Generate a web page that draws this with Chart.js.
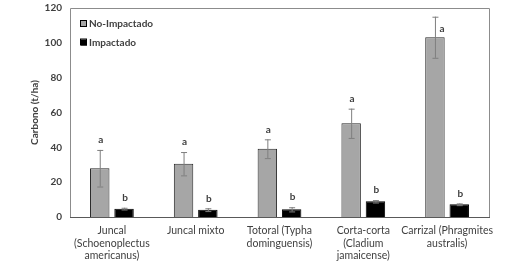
<!DOCTYPE html>
<html><head><meta charset="utf-8">
<script src="https://cdn.jsdelivr.net/npm/chart.js@4/dist/chart.umd.min.js"></script>
<style>html,body{margin:0;padding:0;background:#fff}#w{width:528px;height:264px}</style>
</head><body><div id="w"><canvas id="c"></canvas></div>
<script>
const categories = [
  ["Juncal", "(Schoenoplectus", "americanus)"],
  ["Juncal mixto"],
  ["Totoral (Typha", "dominguensis)"],
  ["Corta-corta", "(Cladium", "jamaicense)"],
  ["Carrizal (Phragmites", "australis)"]
];
const seriesNames = ["No-Impactado", "Impactado"];
const noImpactado = [28, 30.6, 39.2, 53.8, 103.2];
const noImpactadoErr = [10.5, 6.7, 5.4, 8.4, 11.8];
const impactado = [4.8, 4.2, 4.4, 9.0, 7.3];
const impactadoErr = [0.5, 0.8, 1.2, 0.7, 0.5];
const noImpactadoLetters = ["a", "a", "a", "a", "a"];
const impactadoLetters = ["b", "b", "b", "b", "b"];
const yTicks = [0, 20, 40, 60, 80, 100, 120];

const FONT = "Lato";
const TXT = "#404040";

const extras = {
  id: "extras",
  afterDatasetsDraw(chart) {
    const ctx = chart.ctx;
    const y = chart.scales.y;
    const a = chart.chartArea;
    const errs = [noImpactadoErr, impactadoErr];
    const letters = [noImpactadoLetters, impactadoLetters];
    ctx.save();
    chart.data.datasets.forEach((ds, di) => {
      const meta = chart.getDatasetMeta(di);
      meta.data.forEach((bar, i) => {
        const v = ds.data[i], e = errs[di][i];
        const x = bar.x;
        const yt = y.getPixelForValue(v + e), yb = y.getPixelForValue(v - e);
        ctx.strokeStyle = "#7f7f7f";
        ctx.lineWidth = 1;
        ctx.beginPath();
        ctx.moveTo(x + 0.5, yt); ctx.lineTo(x + 0.5, yb);
        ctx.moveTo(x - 2.5, yt + 0.5); ctx.lineTo(x + 3.5, yt + 0.5);
        ctx.moveTo(x - 2.5, yb + 0.5); ctx.lineTo(x + 3.5, yb + 0.5);
        ctx.stroke();
        ctx.fillStyle = TXT;
        ctx.font = "bold 10px " + FONT;
        ctx.textAlign = "center";
        ctx.textBaseline = "middle";
        if (yt - 10 < a.top + 6) {
          ctx.fillText(letters[di][i], x + 7, yt + 12);
        } else {
          ctx.fillText(letters[di][i], x + 1, yt - 10);
        }
      });
    });
    // plot border
    ctx.strokeStyle = "#8c8c8c";
    ctx.lineWidth = 1;
    ctx.beginPath();
    ctx.moveTo(a.left + 0.5, a.bottom); ctx.lineTo(a.left + 0.5, a.top + 0.5);
    ctx.lineTo(a.right + 0.5, a.top + 0.5); ctx.lineTo(a.right + 0.5, a.bottom);
    ctx.stroke();
    ctx.strokeStyle = "#595959";
    ctx.beginPath();
    ctx.moveTo(a.left, a.bottom + 0.5); ctx.lineTo(a.right + 1, a.bottom + 0.5);
    ctx.stroke();
    // legend
    const fills = ["#a6a6a6", "#000000"];
    ctx.font = "bold 10px " + FONT;
    ctx.textAlign = "left";
    ctx.textBaseline = "middle";
    seriesNames.forEach((n, k) => {
      const ly = 24 + k * 18.5;
      ctx.fillStyle = fills[k];
      ctx.fillRect(81, ly - 3, 6, 6);
      ctx.strokeStyle = "#000";
      ctx.strokeRect(80.5, ly - 3.5, 6, 6);
      ctx.fillStyle = TXT;
      ctx.fillText(n, 89, ly);
    });
    ctx.restore();
  }
};

new Chart(document.getElementById("c"), {
  type: "bar",
  data: {
    labels: categories,
    datasets: [
      { label: seriesNames[0], data: noImpactado, backgroundColor: "#a6a6a6", borderColor: "#262626", borderWidth: 1 },
      { label: seriesNames[1], data: impactado, backgroundColor: "#000000", borderColor: "#000000", borderWidth: 1 }
    ]
  },
  options: {
    responsive: true,
    maintainAspectRatio: false,
    animation: false,
    layout: { padding: { left: 29, right: 39, top: 8, bottom: 0 } },
    plugins: { legend: { display: false }, tooltip: { enabled: false } },
    datasets: { bar: { categoryPercentage: 0.58, barPercentage: 0.8 } },
    scales: {
      x: {
        grid: { display: false, drawTicks: false },
        border: { display: false },
        ticks: { color: TXT, font: { family: FONT, size: 10.5, lineHeight: 1.15 }, maxRotation: 0, autoSkip: false, padding: 8 },
        afterFit(s) { s.height = 47; s.paddingLeft = 0; s.paddingRight = 0; }
      },
      y: {
        min: 0, max: 120,
        afterBuildTicks(s) { s.ticks = yTicks.map(v => ({ value: v })); },
        grid: { display: false, drawTicks: false },
        border: { display: false },
        ticks: { color: TXT, font: { family: FONT, size: 10, weight: "bold" }, padding: 8 },
        title: { display: true, text: "Carbono (t/ha)", color: TXT, font: { family: FONT, size: 10, weight: "bold" }, padding: 0 },
        afterFit(s) { s.width = 41; s.paddingTop = 0; s.paddingBottom = 0; }
      }
    }
  },
  plugins: [extras]
});
</script>
</body></html>
